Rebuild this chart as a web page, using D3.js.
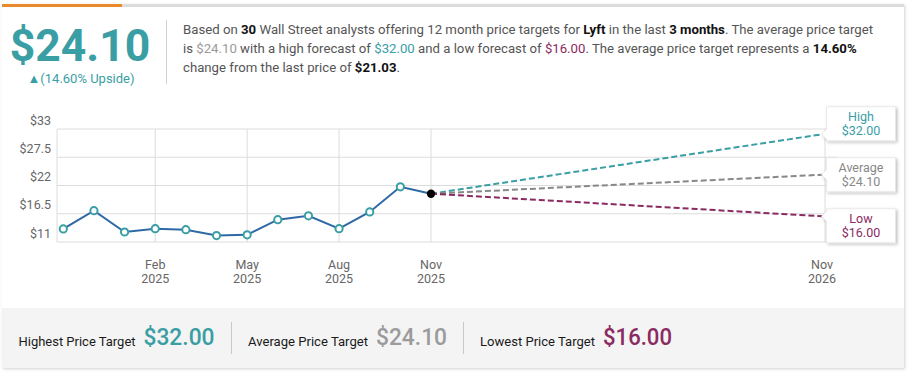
<!DOCTYPE html>
<html>
<head>
<meta charset="utf-8">
<script src="https://cdn.jsdelivr.net/npm/d3@7"></script>
<style>
    body { margin: 0; background: #fff; font-family: Roboto, 'Open Sans', sans-serif; }
    svg { display: block; }
</style>
</head>
<body>
<div id="chart-container"></div>
<script>
//data
var priceMonths = ['Nov 2024', 'Dec 2024', 'Jan 2025', 'Feb 2025', 'Mar 2025', 'Apr 2025', 'May 2025',
    'Jun 2025', 'Jul 2025', 'Aug 2025', 'Sep 2025', 'Oct 2025', 'Nov 2025'];
var prices = [13.55, 17.1, 12.95, 13.6, 13.4, 12.25, 12.4, 15.35, 16.1, 13.6, 16.85, 21.75, 20.4];

var targetNames = ['High', 'Average', 'Low'];
var targetValues = [32.00, 24.10, 16.00];
var targetColors = ['#3a9ea5', '#888888', '#8b2a62'];
var targetMonth = 24; //Nov 2026, months after Nov 2024

var yTicks = [11, 16.5, 22, 27.5, 33];
var yTickLabels = ['$11', '$16.5', '$22', '$27.5', '$33'];
var xTickIndex = [3, 6, 9, 12, 24];
var xTickMonths = ['Feb', 'May', 'Aug', 'Nov', 'Nov'];
var xTickYears = ['2025', '2025', '2025', '2025', '2026'];

var bottomLabels = ['Highest Price Target', 'Average Price Target', 'Lowest Price Target'];
var bottomValues = ['$32.00', '$24.10', '$16.00'];

//colors
var teal = '#3a9ea5',
    purple = '#8b2a62',
    lineBlue = '#2e69a5',
    gridColor = '#dcdcdc',
    axisText = '#666';

//sizes
var outerW = 910,
    outerH = 377;

var plot = { left: 57, right: 837, top: 129, bottom: 242 };

var svg = d3.select('#chart-container').append('svg')
    .attr('width', outerW)
    .attr('height', outerH);

var defs = svg.append('defs');
var shadow = defs.append('filter').attr('id', 'shadow').attr('x', '-10%').attr('y', '-10%').attr('width', '130%').attr('height', '140%');
shadow.append('feDropShadow').attr('dx', 1.5).attr('dy', 1.5).attr('stdDeviation', 1.5).attr('flood-color', '#000').attr('flood-opacity', 0.25);
var cardShadow = defs.append('filter').attr('id', 'card-shadow').attr('x', '-2%').attr('y', '-2%').attr('width', '104%').attr('height', '106%');
cardShadow.append('feDropShadow').attr('dx', 1).attr('dy', 1).attr('stdDeviation', 1.5).attr('flood-color', '#000').attr('flood-opacity', 0.18);

//card
svg.append('rect')
    .attr('x', 2).attr('y', 4).attr('width', 902).attr('height', 364)
    .attr('fill', '#fff')
    .attr('filter', 'url(#card-shadow)');

svg.append('rect').attr('x', 2).attr('y', 4).attr('width', 902).attr('height', 3).attr('fill', '#dddddd');
svg.append('rect').attr('x', 2).attr('y', 4).attr('width', 120).attr('height', 3).attr('fill', '#e98b2d');

//header
svg.append('text')
    .attr('x', 80).attr('y', 60.5)
    .attr('text-anchor', 'middle')
    .attr('font-size', 44.5)
    .attr('font-weight', 700)
    .attr('fill', teal)
    .text('$' + targetValues[1].toFixed(2));

svg.append('text')
    .attr('x', 81).attr('y', 82.5)
    .attr('text-anchor', 'middle')
    .attr('font-size', 13)
    .attr('fill', teal)
    .text('\u25B2(14.60% Upside)');

svg.append('line')
    .attr('x1', 166.5).attr('x2', 166.5).attr('y1', 20).attr('y2', 84)
    .attr('stroke', '#cfcfcf');

var paraLines = [
    [['Based on ', '#555', 400], ['30', '#111', 700], [' Wall Street analysts offering 12 month price targets for ', '#555', 400],
     ['Lyft', '#111', 700], [' in the last ', '#555', 400], ['3 months', '#111', 700], ['. The average price target', '#555', 400]],
    [['is ', '#555', 400], ['$24.10', '#999', 400], [' with a high forecast of ', '#555', 400], ['$32.00', teal, 400],
     [' and a low forecast of ', '#555', 400], ['$16.00', purple, 400], ['. The average price target represents a ', '#555', 400],
     ['14.60%', '#111', 700]],
    [['change from the last price of ', '#555', 400], ['$21.03', '#111', 700], ['.', '#555', 400]]
];

paraLines.forEach(function(parts, i) {
    var t = svg.append('text')
        .attr('x', 183).attr('y', 34 + i * 19)
        .attr('font-size', 13.2);
    parts.forEach(function(p) {
        t.append('tspan').attr('fill', p[1]).attr('font-weight', p[2]).text(p[0]);
    });
});

//scales
var xScale = d3.scaleLinear().domain([0, 12, targetMonth]).range([63.3, 431, 825]);
var yScale = d3.scaleLinear().domain([11, 33]).range([plot.bottom, plot.top]);

var g = svg.append('g');

//grid
g.selectAll('.h-grid')
    .data(yTicks)
    .enter()
    .append('line')
    .attr('class', 'h-grid')
    .attr('x1', plot.left).attr('x2', plot.right)
    .attr('y1', function(d) { return yScale(d); })
    .attr('y2', function(d) { return yScale(d); })
    .attr('stroke', gridColor);

g.append('line')
    .attr('x1', plot.left).attr('x2', plot.left)
    .attr('y1', plot.top).attr('y2', plot.bottom)
    .attr('stroke', gridColor);

g.selectAll('.v-grid')
    .data(xTickIndex)
    .enter()
    .append('line')
    .attr('class', 'v-grid')
    .attr('x1', function(d) { return xScale(d); })
    .attr('x2', function(d) { return xScale(d); })
    .attr('y1', plot.top).attr('y2', plot.bottom)
    .attr('stroke', gridColor);

//y labels (sit above their gridline)
g.selectAll('.y-label')
    .data(yTicks)
    .enter()
    .append('text')
    .attr('class', 'y-label')
    .attr('x', 51)
    .attr('y', function(d) { return yScale(d) - 4.5; })
    .attr('text-anchor', 'end')
    .attr('font-size', 12.5)
    .attr('fill', axisText)
    .text(function(d, i) { return yTickLabels[i]; });

//x labels
xTickIndex.forEach(function(d, i) {
    var t = g.append('text')
        .attr('text-anchor', 'middle')
        .attr('font-size', 12.5)
        .attr('fill', axisText);
    t.append('tspan').attr('x', xScale(d) - (i == 4 ? 3 : 0)).attr('y', 269).text(xTickMonths[i]);
    t.append('tspan').attr('x', xScale(d) - (i == 4 ? 3 : 0)).attr('y', 282.5).text(xTickYears[i]);
});

//target lines
var lastIdx = prices.length - 1;
targetValues.forEach(function(v, i) {
    g.append('line')
        .attr('x1', xScale(lastIdx)).attr('y1', yScale(prices[lastIdx]))
        .attr('x2', xScale(targetMonth) - 2).attr('y2', yScale(v))
        .attr('stroke', targetColors[i])
        .attr('stroke-width', 2)
        .attr('stroke-dasharray', '6,3');
});

//price line
var line = d3.line()
    .x(function(d, i) { return xScale(i); })
    .y(function(d) { return yScale(d); });

g.append('path')
    .datum(prices)
    .attr('d', line)
    .attr('fill', 'none')
    .attr('stroke', lineBlue)
    .attr('stroke-width', 2);

g.selectAll('.price-dot')
    .data(prices.slice(0, lastIdx))
    .enter()
    .append('circle')
    .attr('class', 'price-dot')
    .attr('cx', function(d, i) { return xScale(i); })
    .attr('cy', function(d) { return yScale(d); })
    .attr('r', 3.6)
    .attr('fill', '#fff')
    .attr('stroke', teal)
    .attr('stroke-width', 2);

g.append('circle')
    .attr('cx', xScale(lastIdx))
    .attr('cy', yScale(prices[lastIdx]))
    .attr('r', 4.2)
    .attr('fill', '#000');

//target boxes, spread around the average
var boxW = 69,
    boxH = 34,
    boxX = xScale(targetMonth) + 1.5,
    boxGap = 51;

targetValues.forEach(function(v, i) {
    var cy = yScale(targetValues[1]) + (i - 1) * boxGap,
        top = cy - boxH / 2,
        py = yScale(v),
        x0 = boxX,
        x1 = boxX + boxW;

    g.append('path')
        .attr('d', 'M' + x0 + ',' + top + 'H' + x1 + 'V' + (top + boxH) + 'H' + x0 +
            'V' + Math.min(py + 5, top + boxH) + 'L' + (x0 - 5) + ',' + py + 'L' + x0 + ',' + Math.max(py - 5, top) + 'Z')
        .attr('fill', '#fff')
        .attr('stroke', '#e4e4e4')
        .attr('stroke-width', 0.8)
        .attr('filter', 'url(#shadow)');

    g.append('text')
        .attr('x', x0 + boxW / 2).attr('y', top + 13.8)
        .attr('text-anchor', 'middle')
        .attr('font-size', 12.5)
        .attr('fill', targetColors[i])
        .text(targetNames[i]);

    g.append('text')
        .attr('x', x0 + boxW / 2).attr('y', top + 28.2)
        .attr('text-anchor', 'middle')
        .attr('font-size', 12.5)
        .attr('fill', targetColors[i])
        .text('$' + v.toFixed(2));
});

//bottom summary
svg.append('rect')
    .attr('x', 2).attr('y', 308).attr('width', 902).attr('height', 60)
    .attr('fill', '#f4f4f4');

var bottomX = [18.5, 248, 480],
    labelW = [117, 120, 115],
    valueW = [71, 71, 69],
    valueColors = [teal, '#9b9b9b', purple];

bottomLabels.forEach(function(d, i) {
    svg.append('text')
        .attr('x', bottomX[i]).attr('y', 346)
        .attr('font-size', 13.5)
        .attr('fill', '#1a1a1a')
        .attr('textLength', labelW[i])
        .attr('lengthAdjust', 'spacingAndGlyphs')
        .text(d);

    svg.append('text')
        .attr('x', bottomX[i] + labelW[i] + 8).attr('y', 345)
        .attr('font-size', 23.5)
        .attr('font-weight', 500)
        .attr('fill', valueColors[i])
        .attr('textLength', valueW[i])
        .attr('lengthAdjust', 'spacingAndGlyphs')
        .text(bottomValues[i]);

    if (i > 0) {
        svg.append('line')
            .attr('x1', bottomX[i] - 16.5).attr('x2', bottomX[i] - 16.5)
            .attr('y1', 322).attr('y2', 354)
            .attr('stroke', '#c8c8c8');
    }
});
</script>
</body>
</html>
